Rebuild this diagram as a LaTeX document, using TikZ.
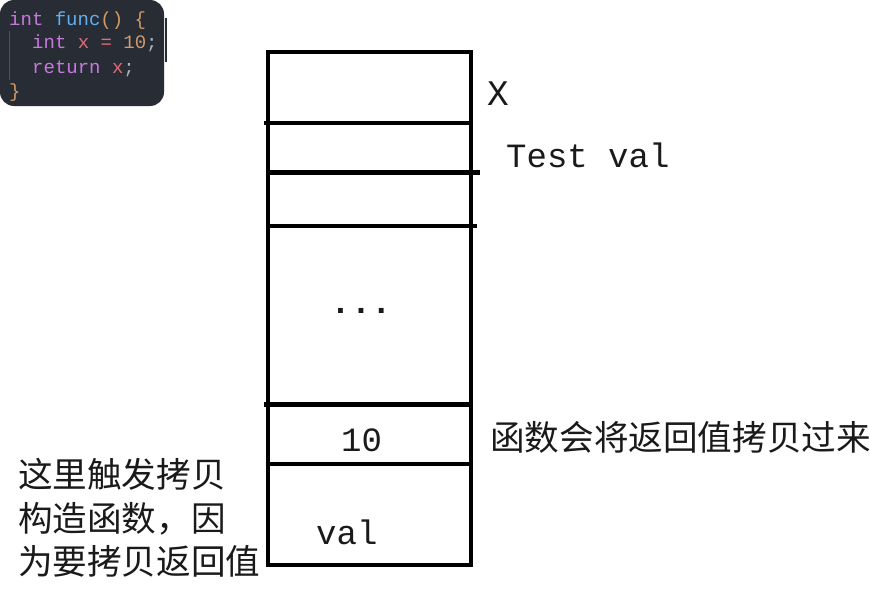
\documentclass[tikz,border=0pt]{standalone}
\usepackage{fontspec}
\newfontfamily\cjk{Noto Sans CJK SC}
\newfontfamily\mono{Liberation Mono}
\definecolor{codebg}{HTML}{282C34}
\definecolor{cpurple}{HTML}{C678DD}
\definecolor{cblue}{HTML}{61AFEF}
\definecolor{corange}{HTML}{D19A66}
\definecolor{cred}{HTML}{E06C75}
\definecolor{cgray}{HTML}{ABB2BF}
\definecolor{cguide}{HTML}{4B5263}
\definecolor{ink}{HTML}{1A1A1A}
\tikzset{
  wall/.style={line width=4.3pt, line cap=rect, black},
  monolabel/.style={inner sep=0pt, anchor=base west, text=ink, font=\mono\fontsize{34}{40}\selectfont},
  cjklabel/.style={inner sep=0pt, anchor=base west, text=ink, font=\cjk\fontsize{34.6}{43}\selectfont},
  codeline/.style={inner sep=0pt, anchor=base west, font=\mono\fontsize{19}{24}\selectfont},
}
\begin{document}
\begin{tikzpicture}[x=1pt,y=-1pt]
\useasboundingbox (0,0) rectangle (870,589);
\fill[white] (0,0) rectangle (870,589);
% code box
\fill[codebg, rounded corners=14pt] (0,0) rectangle (164,106);
\draw[cguide, line width=1.2pt] (9.5,31) -- (9.5,80);
\draw[codebg, line width=1.5pt] (166,18) -- (166,62);
\node[codeline] (c1) at (9,25) {\color{cpurple}int \color{cblue}func\color{corange}() \color{corange}\{};
\node[codeline] (c2) at (32,48.5) {\color{cpurple}int \color{cred}x = \color{corange}10\color{cgray};};
\node[codeline] (c3) at (32,73) {\color{cpurple}return \color{cred}x\color{cgray};};
\node[codeline] (c4) at (9,97) {\color{corange}\}};
% stack
\draw[wall] (268,52) rectangle (471,565);
\draw[wall] (266,123) -- (471,123);
\draw[wall] (268,172.5) -- (478,172.5);
\draw[wall] (268,225.7) -- (475,225.7);
\draw[wall] (266,404.5) -- (471,404.5);
\draw[wall] (270,464) -- (471,464);
% labels
\node[monolabel, font=\mono\fontsize{36}{40}\selectfont] (lx) at (487,105) {X};
\node[monolabel] (ltv) at (506,167) {Test val};
\node[monolabel, anchor=base, font=\mono\bfseries\fontsize{34}{40}\selectfont] (ldots) at (361,313) {...};
\node[monolabel] (l10) at (341,451) {10};
\node[monolabel] (lval) at (316,544) {val};
\node[cjklabel] (lret) at (490,450) {函数会将返回值拷贝过来};
\node[cjklabel] (lc1) at (18,487.5) {这里触发拷贝};
\node[cjklabel] (lc2) at (18,531) {构造函数，因};
\node[cjklabel] (lc3) at (18,574.5) {为要拷贝返回值};
\end{tikzpicture}
\end{document}
